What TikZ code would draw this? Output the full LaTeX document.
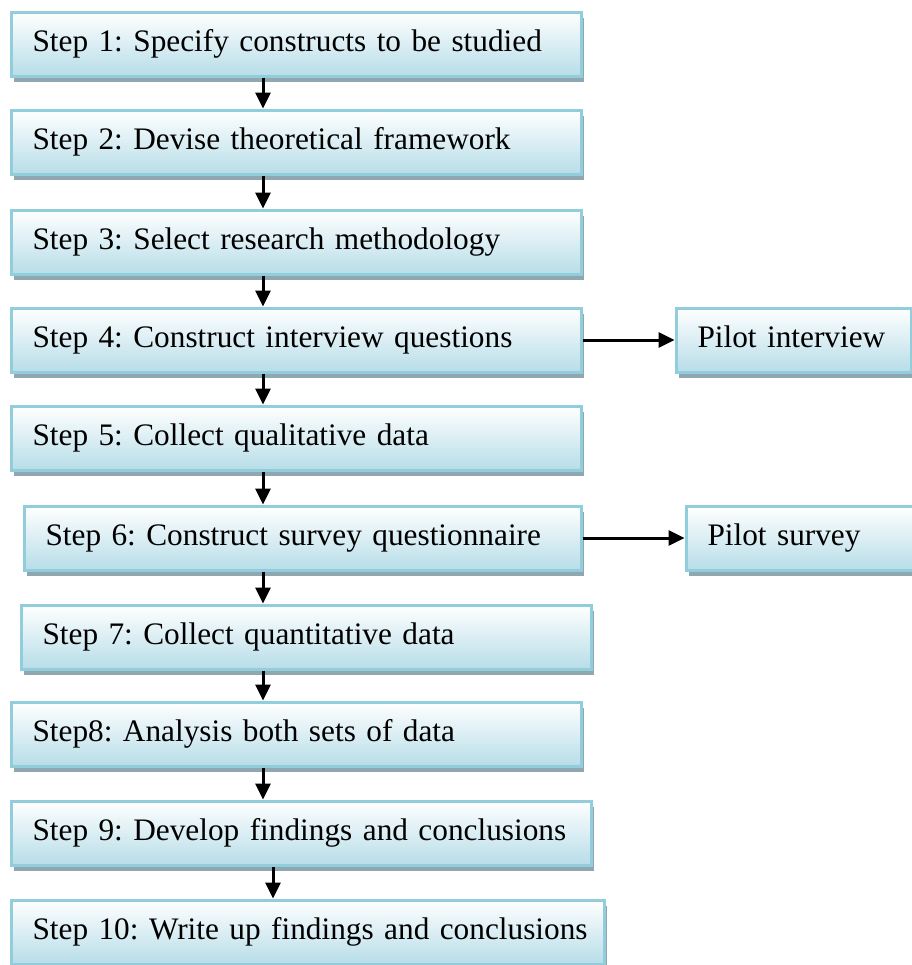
\documentclass[tikz,border=0pt]{standalone}
\usepackage{fontspec}
\setmainfont{Liberation Serif}
\usetikzlibrary{arrows.meta,shadows}
\definecolor{boxborder}{RGB}{146,205,220}
\definecolor{boxbottom}{RGB}{183,221,232}
\definecolor{boxshadow}{RGB}{142,167,176}
\tikzset{
  stepbox/.style={anchor=north west, draw=boxborder, line width=3bp,
    top color=white, bottom color=boxbottom,
    drop shadow={shadow xshift=3bp, shadow yshift=-6bp, fill=boxshadow, opacity=1},
    minimum height=64bp, inner xsep=21.5bp, inner ysep=0pt,
    text height=22bp, text depth=7bp, align=left,
    font=\fontsize{31.3bp}{38bp}\selectfont\frenchspacing},
  flow/.style={line width=3bp, -{Triangle[width=15bp,length=16bp]}}
}
\begin{document}
\begin{tikzpicture}[x=1bp,y=-1bp]
\useasboundingbox (0,0) rectangle (912,965);
\node[stepbox, minimum width=570bp, text width=527bp] (b1) at (9.5,10.5) {\mbox{Step 1: Specify constructs to be studied}};
\node[stepbox, minimum width=570bp, text width=527bp] (b2) at (9.5,108.5) {\mbox{Step 2: Devise theoretical framework}};
\node[stepbox, minimum width=570bp, text width=527bp] (b3) at (9.5,208.5) {\mbox{Step 3: Select research methodology}};
\node[stepbox, minimum width=570bp, text width=527bp] (b4) at (9.5,306.5) {\mbox{Step 4: Construct interview questions}};
\node[stepbox, minimum width=235bp, text width=192bp] (pi) at (674.5,306.5) {\mbox{Pilot interview}};
\node[stepbox, minimum width=570bp, text width=527bp] (b5) at (9.5,404.5) {\mbox{Step 5: Collect qualitative data}};
\node[stepbox, minimum width=557bp, text width=514bp] (b6) at (22.5,504.5) {\mbox{Step 6: Construct survey questionnaire}};
\node[stepbox, minimum width=240bp, text width=197bp] (ps) at (684.5,504.5) {\mbox{Pilot survey}};
\node[stepbox, minimum width=570bp, text width=527bp] (b7) at (19.5,603.5) {\mbox{Step 7: Collect quantitative data}};
\node[stepbox, minimum width=570bp, text width=527bp] (b8) at (9.5,700.5) {\mbox{Step8: Analysis both sets of data}};
\node[stepbox, minimum width=580bp, text width=537bp] (b9) at (9.5,799.5) {\mbox{Step 9: Develop findings and conclusions}};
\node[stepbox, minimum width=593bp, text width=550bp] (b10) at (9.5,898.5) {\mbox{Step 10: Write up findings and conclusions}};
\coordinate (ax) at (263,0);
\coordinate (ay) at (273,0);
\draw[flow] (ax |- b1.south) -- (ax |- b2.north);
\draw[flow] (ax |- b2.south) -- (ax |- b3.north);
\draw[flow] (ax |- b3.south) -- (ax |- b4.north);
\draw[flow] (ax |- b4.south) -- (ax |- b5.north);
\draw[flow] (ax |- b5.south) -- (ax |- b6.north);
\draw[flow] (ax |- b6.south) -- (ax |- b7.north);
\draw[flow] (ax |- b7.south) -- (ax |- b8.north);
\draw[flow] (ax |- b8.south) -- (ax |- b9.north);
\draw[flow] (ay |- b9.south) -- (ay |- b10.north);
\draw[flow] (b4.east) -- (pi.west);
\draw[flow] (b6.east) -- (ps.west);
\end{tikzpicture}
\end{document}
